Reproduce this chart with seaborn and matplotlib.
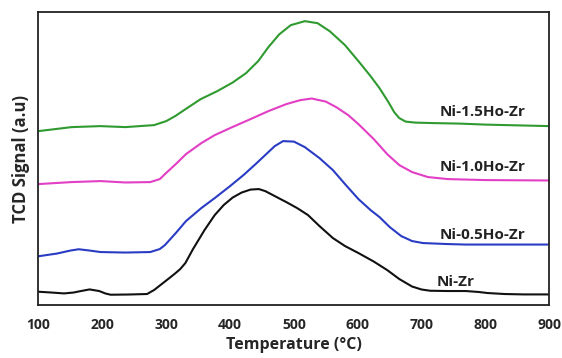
import numpy as np
import pandas as pd
import matplotlib
matplotlib.use("Agg")
import matplotlib.pyplot as plt
import seaborn as sns

sns.set_style("white")
plt.rcParams['font.family'] = ['Open Sans', 'DejaVu Sans']

# TPR profiles (signal in arbitrary units, stacked)
temp_nizr = [100, 120, 140, 155, 165, 180, 195, 205, 213, 240, 270, 281, 295, 305, 314, 322, 330, 342, 360, 376, 390,
             404, 418, 432, 445, 455, 470, 488, 505, 522, 540, 561, 580, 601, 625, 646, 665,
             685, 700, 713, 740, 769, 790, 803, 830, 860, 900]
sig_nizr = [13.3, 12.5, 11.6, 12.5, 13.8, 15.6, 14.0, 11.5, 10.3, 10.5, 11.0, 15.0, 22.0, 27.0, 31.6, 36.0, 42.0, 56.0, 75.0, 90.0, 100.0,
            107.5, 112.5, 115.5, 116.0, 114.0, 109.0, 103.0, 97.0, 90.0, 79.0, 67.0, 59.0, 52.0, 43.5, 35.0, 26.0,
            18.5, 15.5, 14.3, 14.0, 14.0, 13.0, 12.0, 11.0, 10.6, 10.6]

temp_05 = [100, 129, 150, 163, 180, 197, 236, 275, 290, 298, 315, 331, 355, 376, 400, 421,
           440, 455, 470, 483, 500, 517, 540, 561, 580, 601, 620, 634, 650, 668, 685, 702,
           740, 769, 830, 900]
sig_05 = [48.8, 51.5, 54.5, 55.8, 54.5, 53.0, 52.5, 53.0, 56.0, 60.0, 72.0, 84.0, 97.0, 107.0, 119.0, 130.0,
          141.0, 150.0, 159.0, 164.0, 163.5, 158.0, 147.0, 135.0, 121.0, 106.0, 95.0, 88.0, 78.0, 69.0, 64.0, 62.0,
          61.0, 60.5, 60.5, 60.5]

temp_10 = [100, 152, 197, 236, 275, 290, 298, 315, 331, 355, 376, 400, 432, 460, 488,
           510, 528, 550, 567, 585, 601, 625, 646, 665, 685, 710, 741, 800, 900]
sig_10 = [121.0, 123.0, 124.0, 122.6, 123.0, 126.0, 131.0, 141.0, 151.0, 162.0, 170.0, 177.0, 186.0, 194.0, 201.0,
          205.0, 206.6, 203.5, 197.7, 190.0, 181.0, 166.0, 151.0, 140.0, 133.0, 128.0, 126.0, 125.0, 124.6]

temp_15 = [100, 152, 197, 236, 281, 300, 314, 335, 354, 380, 404, 425, 444, 460, 477,
           495, 517, 537, 556, 580, 601, 620, 634, 648, 657, 665, 675, 690, 720, 760, 800, 900]
sig_15 = [174.0, 178.0, 179.0, 178.0, 180.0, 184.0, 189.0, 198.0, 206.0, 214.0, 222.6, 232.0, 244.0, 258.0, 270.8,
          280.0, 284.0, 282.0, 274.0, 260.0, 244.0, 229.0, 217.0, 203.0, 193.0, 187.0, 183.5, 182.5, 182.0, 181.5, 180.5, 179.0]

names = ['Ni-Zr', 'Ni-0.5Ho-Zr', 'Ni-1.0Ho-Zr', 'Ni-1.5Ho-Zr']
colors = ['#111111', '#2a3cc4', '#e23fc4', '#2f9a30']

# label anchors (temperature, signal)
label_x = [753, 796, 796, 796]
label_y = [23, 70, 138, 193]

frames = []
for name, t, s in zip(names, [temp_nizr, temp_05, temp_10, temp_15],
                      [sig_nizr, sig_05, sig_10, sig_15]):
    frames.append(pd.DataFrame({'Temperature': t, 'Signal': s, 'Sample': name}))
df = pd.concat(frames, ignore_index=True)

fig = plt.figure(figsize=(5.62, 3.58), dpi=100)
ax = fig.add_axes([0.0685, 0.148, 0.909, 0.818])

sns.lineplot(data=df, x='Temperature', y='Signal', hue='Sample', hue_order=names,
             palette=colors, linewidth=1.5, sort=False, estimator=None, legend=False, ax=ax)
for line in ax.get_lines():
    line.set_solid_joinstyle('round')

for name, lx, ly in zip(names, label_x, label_y):
    ax.text(lx, ly, name, ha='center', va='center', fontsize=11, fontweight='bold', color='#222222')

ax.set_xlim(100, 900)
ax.set_ylim(0, 293)
ax.set_xticks(range(100, 901, 100))
ax.set_yticks([])
ax.tick_params(axis='x', direction='out', length=4, width=1.2, labelsize=10, pad=5)
for lab in ax.get_xticklabels():
    lab.set_fontweight('bold')
ax.set_xlabel('Temperature (\u00b0C)', fontsize=11.5, fontweight='bold', labelpad=4)
ax.set_ylabel('TCD Signal (a.u)', fontsize=12, fontweight='bold', labelpad=6)
for sp in ax.spines.values():
    sp.set_color('#222222')
    sp.set_linewidth(1.3)

fig.savefig('out.png', dpi=100)
